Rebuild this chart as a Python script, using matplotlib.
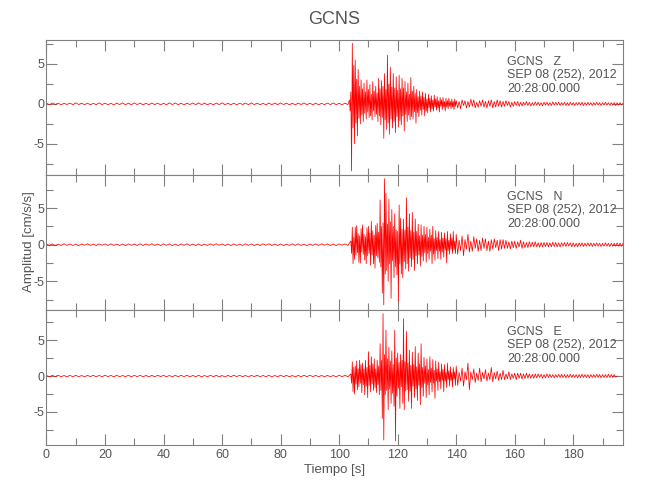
import numpy as np
import matplotlib
matplotlib.use("Agg")
import matplotlib.pyplot as plt
from matplotlib.ticker import MultipleLocator

plt.rcParams['font.family'] = ['Liberation Sans', 'DejaVu Sans']
plt.rcParams['axes.unicode_minus'] = False

station = "GCNS"
date_line = "SEP 08 (252), 2012"
time_line = "20:28:00.000"
components = ["Z", "N", "E"]
ylims = [(-8.9, 8.0), (-8.9, 9.5), (-9.6, 9.2)]
xmax = 197

# pre-event noise, one value per second from t = 0
noise_dt = 1.0
z_noise = [0.08, -0.10, 0.12, -0.07, 0.10, -0.12, 0.09, -0.08, 0.11, -0.10, 0.13, -0.08, 0.09,
           -0.11, 0.10, -0.12, 0.08, -0.10, 0.13, -0.09, 0.10, -0.11, 0.08, -0.12, 0.10, -0.08,
           0.12, -0.10, 0.09, -0.11, 0.12, -0.08, 0.10, -0.12, 0.08, -0.10, 0.11, -0.09, 0.10,
           -0.12, 0.08, -0.10, 0.12, -0.08, 0.11, -0.10, 0.09, -0.12, 0.10, -0.08, 0.11, -0.10,
           0.12, -0.09, 0.10, -0.11, 0.08, -0.12, 0.10, -0.09, 0.13, -0.10, 0.08, -0.11, 0.10,
           -0.12, 0.09, -0.08, 0.11, -0.10, 0.12, -0.09, 0.10, -0.11, 0.08, -0.12, 0.10, -0.10,
           0.11, -0.09, 0.12, -0.08, 0.10, -0.11, 0.09, -0.12, 0.10, -0.08, 0.12, -0.10, 0.09,
           -0.11, 0.10, -0.12, 0.08, -0.10, 0.11, -0.09, 0.12, -0.10, 0.08, -0.11, 0.10, -0.09]
n_noise = [0.10, -0.09, 0.11, -0.12, 0.08, -0.10, 0.12, -0.09, 0.10, -0.11, 0.08, -0.12, 0.10,
           -0.08, 0.12, -0.10, 0.09, -0.12, 0.11, -0.08, 0.10, -0.10, 0.12, -0.09, 0.08, -0.11,
           0.10, -0.12, 0.11, -0.08, 0.09, -0.10, 0.12, -0.11, 0.10, -0.08, 0.12, -0.10, 0.08,
           -0.12, 0.11, -0.09, 0.10, -0.11, 0.08, -0.12, 0.10, -0.08, 0.12, -0.10, 0.09, -0.11,
           0.10, -0.12, 0.08, -0.10, 0.11, -0.09, 0.12, -0.08, 0.10, -0.11, 0.09, -0.12, 0.10,
           -0.10, 0.08, -0.11, 0.12, -0.09, 0.10, -0.12, 0.08, -0.10, 0.11, -0.08, 0.12, -0.10,
           0.09, -0.11, 0.10, -0.12, 0.08, -0.10, 0.12, -0.09, 0.11, -0.10, 0.08, -0.12, 0.10,
           -0.09, 0.11, -0.10, 0.12, -0.08, 0.10, -0.11, 0.09, -0.12, 0.10, -0.08, 0.11, -0.10]
e_noise = [0.09, -0.11, 0.10, -0.08, 0.12, -0.10, 0.08, -0.12, 0.10, -0.09, 0.11, -0.10, 0.08,
           -0.12, 0.10, -0.08, 0.12, -0.11, 0.09, -0.10, 0.12, -0.08, 0.10, -0.12, 0.11, -0.09,
           0.08, -0.10, 0.12, -0.12, 0.10, -0.08, 0.11, -0.10, 0.09, -0.12, 0.10, -0.11, 0.12,
           -0.08, 0.10, -0.10, 0.08, -0.12, 0.11, -0.09, 0.10, -0.08, 0.12, -0.11, 0.09, -0.10,
           0.11, -0.12, 0.08, -0.10, 0.12, -0.09, 0.10, -0.11, 0.08, -0.12, 0.10, -0.10, 0.12,
           -0.08, 0.11, -0.10, 0.09, -0.12, 0.10, -0.08, 0.12, -0.11, 0.09, -0.10, 0.11, -0.12,
           0.08, -0.10, 0.12, -0.09, 0.10, -0.11, 0.08, -0.12, 0.10, -0.10, 0.11, -0.09, 0.12,
           -0.08, 0.10, -0.11, 0.09, -0.12, 0.10, -0.10, 0.08, -0.11, 0.12, -0.09, 0.10, -0.10]

# main phase, one value every 0.25 s from the onset
main_dt = 0.25
onsets = [103.5, 104.0, 104.0]
z_main = [0.5, -0.9,
          1.5, -8.4, 7.6, -3.0,   4.8, -5.0, 5.5, -2.4,   3.1, -4.0, 4.3, -1.8,
          2.2, -2.5, 3.0, -1.4,   1.9, -2.2, 2.6, -1.2,   1.5, -1.9, 3.0, -1.0,
          1.8, -1.7, 2.4, -1.5,   1.2, -2.0, 2.8, -0.9,   1.6, -1.6, 2.2, -1.3,
          1.4, -2.2, 3.2, -1.5,   1.9, -2.6, 2.9, -1.7,   2.2, -4.3, 3.8, -2.0,
          1.8, -3.2, 6.1, -2.4,   2.5, -3.8, 4.6, -1.9,   2.1, -3.0, 3.8, -2.2,
          2.0, -3.6, 3.4, -1.6,   1.7, -2.9, 3.6, -2.1,   1.9, -2.6, 3.2, -1.5,
          2.0, -3.4, 2.8, -1.3,   1.5, -2.2, 2.6, -1.4,   1.2, -2.0, 3.3, -1.6,
          1.6, -1.9, 2.2, -1.0,   1.3, -2.4, 1.8, -1.1,   0.9, -1.6, 1.6, -0.8,
          1.0, -1.4, 1.5, -0.7,   0.8, -1.5, 1.3, -0.9,   0.6, -1.1, 1.2, -0.5,
          0.7, -1.0, 1.0, -0.6,   0.5, -0.9, 1.1, -0.4,   0.6, -0.8, 0.9, -0.5,
          0.4, -1.0, 0.8, -0.3,   0.5, -0.7, 0.8, -0.4,   0.3, -0.9, 0.7, -0.4,
          0.4, -0.6, 0.7, -0.3,   0.3, -0.6, 0.6, -0.4,   0.3, -0.7, 0.6, -0.3,
          0.4]
n_main = [0.5, -1.2, 2.4, -2.6,   1.0, -2.0, 2.4, -1.4,   2.6, -1.1, 1.5, -2.4,
          1.2, -2.5, 2.2, -1.0,   2.7, -1.3, 1.4, -2.1,   1.1, -2.6, 2.3, -1.5,
          2.5, -1.2, 1.6, -2.8,   3.2, -1.4, 1.9, -2.6,   1.3, -3.2, 2.6, -1.5,
          2.9, -1.8, 1.7, -2.4,   6.1, -3.0, 2.5, -6.6,   3.0, -8.2, 9.0, -4.0,
          7.0, -3.5, 2.8, -5.0,   6.2, -2.6, 3.1, -7.3,   4.8, -2.2, 2.5, -4.5,
          4.2, -3.0, 2.0, -4.1,   1.8, -7.7, 5.4, -2.6,   3.6, -4.0, 2.1, -4.5,
          3.5, -2.3, 2.0, -3.3,   6.4, -2.6, 2.4, -3.6,   4.2, -1.8, 1.9, -3.0,
          4.4, -2.0, 1.7, -3.5,   3.5, -1.5, 1.8, -2.6,   2.8, -1.4, 1.2, -2.9,
          2.7, -1.6, 1.3, -2.2,   2.5, -1.1, 1.4, -2.4,   2.4, -1.2, 1.0, -2.0,
          2.1, -0.9, 1.3, -2.6,   2.5, -1.3, 0.8, -2.1,   1.9, -0.8, 1.0, -1.9,
          1.8, -0.9, 0.7, -2.0,   1.7, -1.0, 0.9, -1.7,   1.6, -0.7, 0.8, -2.5,
          1.8, -0.8, 0.6, -1.3,   1.5, -0.6, 0.9, -1.2,   1.8, -0.7, 0.5, -1.2,
          1.4]
e_main = [0.3, -1.0, 2.0, -2.2,   1.2, -2.5, 1.4, -1.1,   2.1, -1.9, 1.0, -1.5,
          2.2, -1.0, 1.6, -2.3,   1.8, -1.2, 1.0, -2.6,   2.2, -1.4, 1.2, -3.0,
          3.4, -1.3, 1.5, -2.2,   2.7, -1.1, 1.7, -2.0,   2.4, -1.6, 1.0, -2.3,
          2.2, -1.2, 1.4, -2.6,   4.5, -2.0, 2.2, -5.9,   8.7, -8.9, 3.0, -2.6,
          6.4, -2.0, 2.4, -4.7,   4.0, -1.8, 2.1, -3.8,   3.5, -2.4, 1.6, -4.2,
          6.4, -9.0, 2.5, -2.8,   3.2, -1.7, 1.9, -4.5,   3.0, -1.5, 2.2, -3.8,
          8.0, -4.7, 2.0, -2.1,   6.2, -1.9, 1.8, -3.5,   3.6, -2.1, 1.5, -4.5,
          3.3, -1.4, 1.6, -3.0,   4.1, -1.8, 1.3, -3.4,   3.2, -1.3, 1.7, -4.0,
          4.5, -1.6, 1.2, -2.8,   2.6, -1.0, 1.4, -3.0,   2.4, -1.2, 0.9, -2.6,
          2.7, -0.9, 1.1, -2.2,   2.3, -1.0, 0.8, -3.1,   2.1, -0.7, 1.0, -2.0,
          1.9, -0.8, 0.6, -1.8,   1.7, -0.6, 0.9, -2.2,   1.6, -0.7, 0.5, -1.6,
          1.8, -0.5, 0.7, -1.4,   1.3, -0.6, 0.5, -1.5,   1.2, -0.4, 0.6, -1.3,
          1.4]

# coda, one value every 0.5 s from 140.5 s
coda_start = 140.5
coda_dt = 0.5
z_coda = [-0.5, 0.3, -0.6, 0.5, -0.2, 0.4, -0.5, 0.3, -0.4, 0.6,
          -0.3, 0.5, -0.5, 0.2, -0.4, 0.4, -0.3, 0.5, -0.4, 0.3,
          -0.5, 0.4, -0.3, 0.5, -0.5, 0.3, -0.4, 0.5, -0.3, 0.4,
          -0.4, 0.3, -0.3, 0.4, -0.2, 0.3, -0.4, 0.2, -0.3, 0.3,
          -0.2, 0.3, -0.3, 0.2, -0.25, 0.2, -0.15, 0.3, -0.2, 0.2,
          -0.25, 0.15, -0.2, 0.25, -0.15, 0.2, -0.2, 0.15, -0.25, 0.2,
          -0.15, 0.2, -0.2, 0.15, -0.2, 0.25, -0.15, 0.2, -0.15, 0.2,
          -0.2, 0.15, -0.15, 0.2, -0.2, 0.15, -0.2, 0.2, -0.15, 0.15,
          -0.2, 0.15, -0.15, 0.2, -0.15, 0.2, -0.2, 0.15, -0.15, 0.2,
          -0.15, 0.15, -0.2, 0.15, -0.15, 0.2, -0.15, 0.15, -0.2, 0.15,
          -0.15, 0.2, -0.15, 0.15, -0.2, 0.15, -0.15, 0.15, -0.2, 0.15,
          -0.15, 0.15, -0.15, 0.1]
n_coda = [-1.3, 0.6, -0.8, 1.2, -1.5, 0.7, -0.6, 1.4, -1.0, 0.5,
          -0.9, 1.1, -0.5, 0.8, -0.9, 0.6, -0.8, 0.9, -0.5, 0.8,
          -0.8, 0.5, -0.9, 0.7, -0.6, 0.8, -0.4, 0.6, -0.8, 0.7,
          -0.6, 0.7, -0.5, 0.6, -0.5, 0.4, -0.6, 0.5, -0.4, 0.5,
          -0.5, 0.4, -0.3, 0.6, -0.5, 0.4, -0.4, 0.3, -0.4, 0.4,
          -0.3, 0.35, -0.3, 0.4, -0.3, 0.25, -0.35, 0.3, -0.3, 0.3,
          -0.25, 0.3, -0.3, 0.25, -0.3, 0.35, -0.25, 0.3, -0.3, 0.25,
          -0.3, 0.25, -0.2, 0.3, -0.25, 0.3, -0.2, 0.25, -0.3, 0.25,
          -0.25, 0.2, -0.3, 0.25, -0.2, 0.25, -0.25, 0.2, -0.2, 0.25,
          -0.2, 0.25, -0.25, 0.2, -0.2, 0.25, -0.2, 0.2, -0.25, 0.2,
          -0.2, 0.25, -0.2, 0.2, -0.25, 0.2, -0.2, 0.2, -0.2, 0.25,
          -0.2, 0.2, -0.2, 0.2]
e_coda = [-1.3, 0.5, -0.7, 1.1, -1.4, 0.6, -0.5, 1.8, -1.9, 0.6,
          -0.5, 1.0, -0.9, 0.4, -0.6, 1.1, -0.8, 0.5, -0.4, 0.9,
          -0.7, 0.4, -0.5, 1.2, -0.8, 0.5, -0.4, 0.7, -0.6, 0.4,
          -0.5, 0.8, -0.5, 0.3, -0.4, 0.6, -0.5, 0.3, -0.3, 0.4,
          -0.5, 0.4, -0.3, 0.4, -0.4, 0.3, -0.35, 0.4, -0.3, 0.3,
          -0.3, 0.25, -0.3, 0.3, -0.25, 0.3, -0.2, 0.25, -0.3, 0.2,
          -0.25, 0.3, -0.2, 0.25, -0.2, 0.2, -0.25, 0.2, -0.2, 0.25,
          -0.2, 0.25, -0.2, 0.2, -0.25, 0.2, -0.2, 0.25, -0.2, 0.2,
          -0.2, 0.2, -0.25, 0.2, -0.2, 0.25, -0.2, 0.2, -0.2, 0.2,
          -0.25, 0.2, -0.2, 0.2, -0.2, 0.25, -0.2, 0.2, -0.25, 0.2,
          -0.2, 0.2, -0.2, 0.25, -0.2, 0.2, -0.2, 0.2, -0.15, 0.0]

noise = [z_noise, n_noise, e_noise]
main = [z_main, n_main, e_main]
coda = [z_coda, n_coda, e_coda]

gray = '#555555'
spine_gray = '#808080'

fig, axes = plt.subplots(3, 1, figsize=(6.5, 5), dpi=100, sharex=True)
fig.subplots_adjust(left=0.0715, right=0.9585, bottom=0.11, top=0.92, hspace=0)

for i, ax in enumerate(axes):
    t_noise = np.arange(len(noise[i])) * noise_dt
    t_main = onsets[i] + np.arange(len(main[i])) * main_dt
    t_coda = coda_start + np.arange(len(coda[i])) * coda_dt
    t = np.concatenate([t_noise, t_main, t_coda])
    y = np.concatenate([noise[i], main[i], coda[i]])
    ax.plot(t, y, color='red', lw=0.55)

    ax.set_xlim(0, xmax)
    ax.set_ylim(*ylims[i])
    ax.xaxis.set_major_locator(MultipleLocator(20))
    ax.xaxis.set_minor_locator(MultipleLocator(10))
    ax.yaxis.set_major_locator(MultipleLocator(5))
    ax.yaxis.set_minor_locator(MultipleLocator(2.5))
    ax.tick_params(which='both', direction='in', top=True, right=True,
                   colors=spine_gray, labelcolor=gray, labelsize=9)
    ax.tick_params(which='major', length=8, width=0.8)
    ax.tick_params(which='minor', length=5, width=0.8)
    ax.tick_params(axis='y', pad=1.5)
    ax.tick_params(axis='x', pad=3)
    for sp in ax.spines.values():
        sp.set_color(spine_gray)
        sp.set_linewidth(0.8)

    tr = ax.get_xaxis_transform()
    ax.text(157.3, 0.84, station + "   " + components[i], transform=tr,
            color=gray, fontsize=9, va='center')
    ax.text(157.3, 0.74, date_line, transform=tr, color=gray, fontsize=9, va='center')
    ax.text(157.3, 0.635, time_line, transform=tr, color=gray, fontsize=9, va='center')

axes[2].set_xlabel("Tiempo [s]", color=gray, fontsize=9.5, labelpad=2)
fig.text(0.044, 0.516, "Amplitud [cm/s/s]", rotation=90, color=gray,
         fontsize=9.5, ha='center', va='center')
fig.text(0.5146, 0.962, station, color=gray, fontsize=13, ha='center', va='center')

fig.savefig("out.png", dpi=100)
